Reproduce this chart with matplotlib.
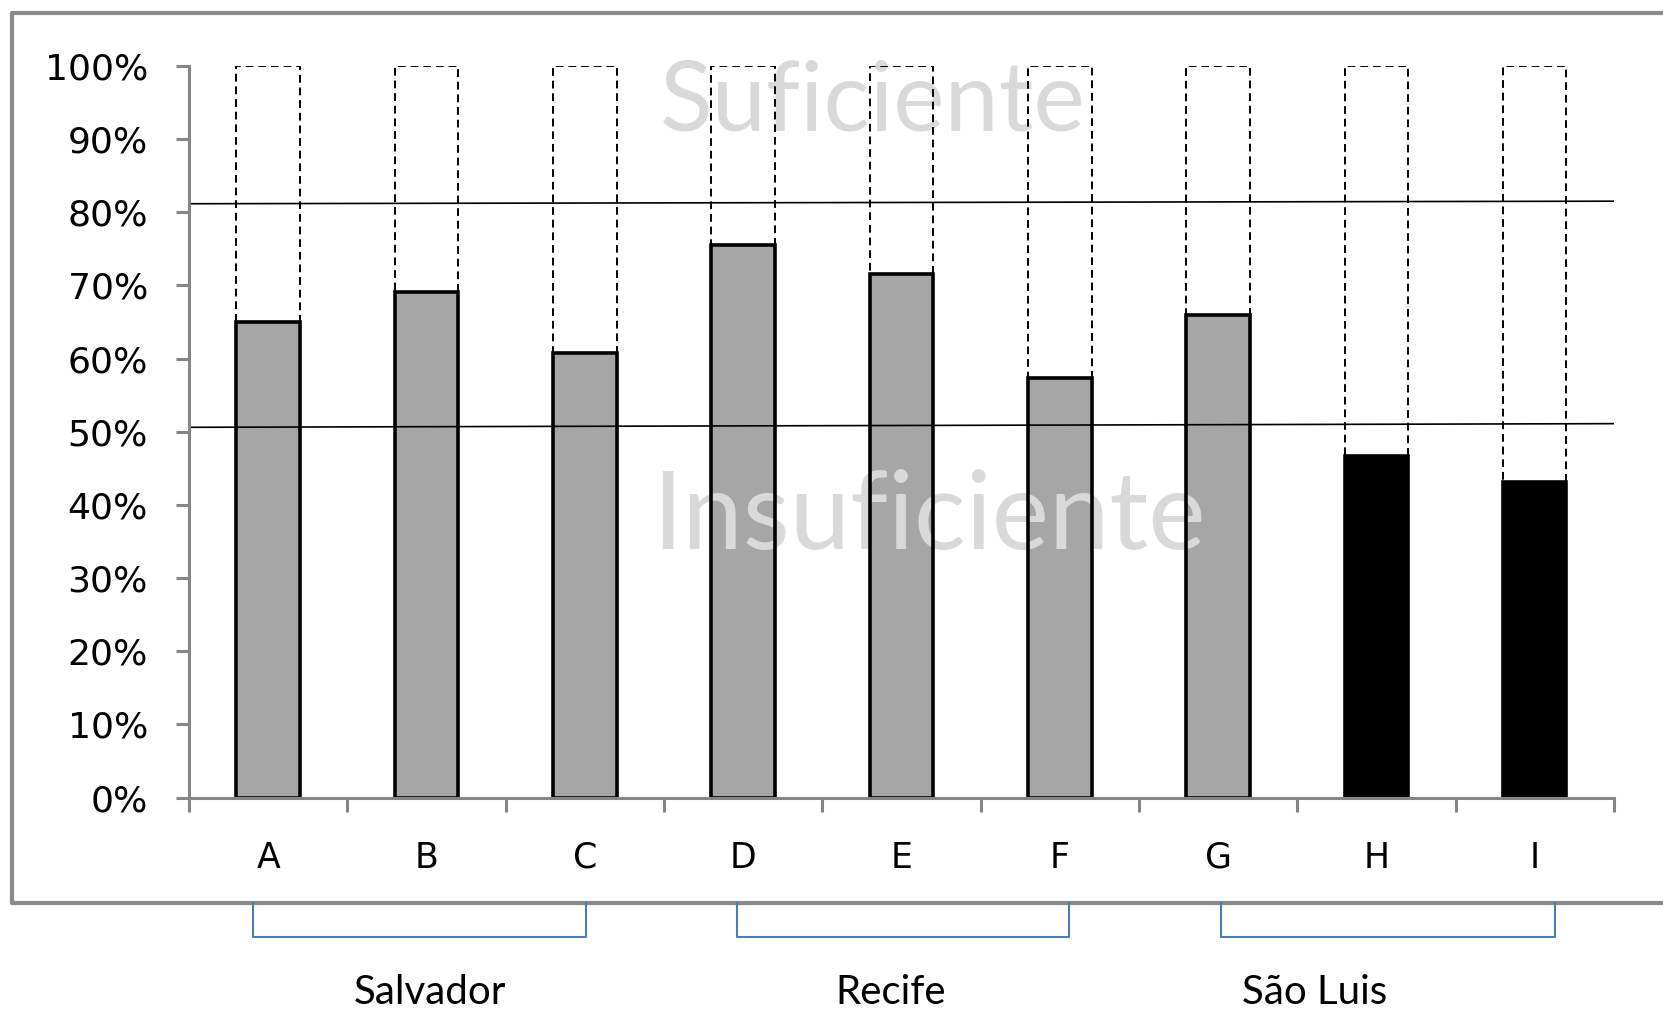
import numpy as np
import matplotlib.pyplot as plt
import matplotlib.transforms as mtransforms
from matplotlib.lines import Line2D

# schools and their score (%)
categories = ['A', 'B', 'C', 'D', 'E', 'F', 'G', 'H', 'I']
scores = np.array([65.0, 69.1, 60.8, 75.5, 71.5, 57.4, 66.0, 46.7, 43.1])

# reference lines (value at left end, value at right end)
upper_line = [81.15, 81.5]
lower_line = [50.6, 51.1]

# cities grouping the schools
cities = ['Salvador', 'Recife', 'São Luis']
city_span = [(-0.095, 2.01), (2.96, 5.06), (6.02, 8.13)]
city_label_x = [1.02, 3.93, 6.61]

y_ticks = [0, 10, 20, 30, 40, 50, 60, 70, 80, 90, 100]
y_labels = ['%d%%' % t for t in y_ticks]

W, H = 1663, 1009
fig = plt.figure(figsize=(W / 100, H / 100), dpi=100)
ax = fig.add_axes([189 / W, 1 - 797.6 / H, (1614 - 189) / W, (797.6 - 65.8) / H])

x = np.arange(len(categories))
bw = 0.40
fills = ['black' if s < 50 else '#a6a6a6' for s in scores]

# bar fill, watermark text, then outlines on top
ax.bar(x, scores, width=bw, color=fills, edgecolor='none', zorder=1)
ax.bar(x, scores, width=bw, fill=False, edgecolor='black', linewidth=2.6, zorder=3)
ax.bar(x, 100 - scores, bottom=scores, width=bw, fill=False, edgecolor='black',
       linestyle=(0, (4, 2.5)), linewidth=1.4, zorder=3)

ax.text(3.82, 91.2, 'Suficiente', family='Lato', fontsize=70, color='#d9d9d9',
        ha='center', va='baseline', zorder=2)
ax.text(4.17, 34.0, 'Insuficiente', family='Lato', fontsize=78, color='#d9d9d9',
        ha='center', va='baseline', zorder=2)

ax.plot([-0.5, len(categories) - 0.5], upper_line, color='black', lw=1.2, zorder=4)
ax.plot([-0.5, len(categories) - 0.5], lower_line, color='black', lw=1.2, zorder=4)

ax.set_xlim(-0.5, len(categories) - 0.5)
ax.set_ylim(0, 100)

for side in ['top', 'right']:
    ax.spines[side].set_visible(False)
for side in ['left', 'bottom']:
    ax.spines[side].set_color('#868686')
    ax.spines[side].set_linewidth(2.2)
    ax.spines[side].set_zorder(5)

ax.set_yticks(y_ticks)
ax.set_yticklabels(y_labels, fontsize=26, family='DejaVu Sans')
ax.tick_params(axis='y', length=9.5, width=2.2, color='#868686', pad=20)

ax.set_xticks(np.arange(len(categories) + 1) - 0.5)
ax.set_xticklabels([])
ax.set_xticks(x, minor=True)
ax.set_xticklabels(categories, minor=True, fontsize=25, family='DejaVu Sans')
ax.tick_params(axis='x', which='major', length=10, width=2.2, color='#868686')
ax.tick_params(axis='x', which='minor', length=0, pad=31)

# outer frame, open on the right
fx0 = 12 / W
fy0 = 1 - 903 / H
fy1 = 1 - 13 / H
fig.add_artist(Line2D([1.02, fx0, fx0, 1.02], [fy1, fy1, fy0, fy0],
                      color='#898989', lw=3))

# city brackets under the frame
trans = mtransforms.blended_transform_factory(ax.transData, fig.transFigure)
yb = 1 - 937 / H
for (lo, hi), name, lx in zip(city_span, cities, city_label_x):
    fig.add_artist(Line2D([lo, lo, hi, hi], [fy0, yb, yb, fy0], transform=trans,
                          color='#4a7ebb', lw=1.5))
    fig.text(lx, 0.005, name, transform=trans, family='Lato', fontsize=29,
             ha='center', va='baseline', color='black')

fig.savefig('out.png', dpi=100, facecolor='white')
